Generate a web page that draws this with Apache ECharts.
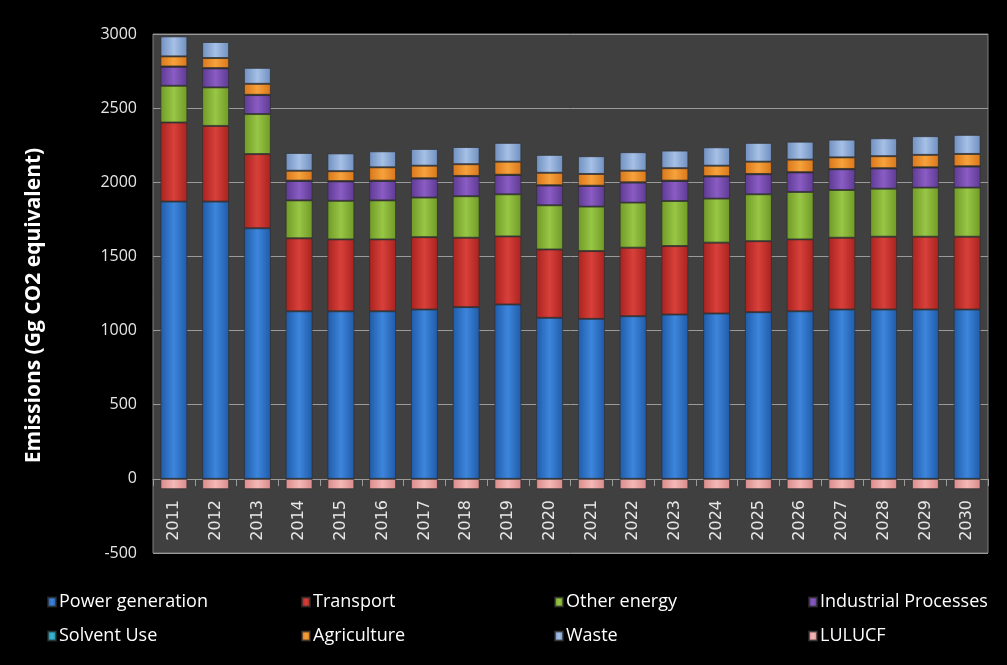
<!DOCTYPE html>
<html>
<head>
<meta charset="utf-8">
<title>Emissions</title>
<script src="https://cdn.jsdelivr.net/npm/echarts@6/dist/echarts.min.js"></script>
<style>
  html, body { margin: 0; padding: 0; background: #000; }
  #main { width: 1007px; height: 665px; }
</style>
</head>
<body>
<div id="main"></div>
<script>
// data (Gg CO2 equivalent)
const years = ['2011', '2012', '2013', '2014', '2015', '2016', '2017', '2018', '2019', '2020',
  '2021', '2022', '2023', '2024', '2025', '2026', '2027', '2028', '2029', '2030']
const powerGeneration = [1870, 1870, 1690, 1130, 1130, 1130, 1142, 1158, 1176, 1086,
  1079, 1097, 1108, 1115, 1124, 1130, 1142, 1142, 1142, 1142]
const transport = [533, 510, 500, 492, 485, 485, 488, 468, 459, 461,
  457, 462, 462, 478, 479, 485, 484, 491, 491, 491]
const otherEnergy = [248, 260, 270, 256, 260, 263, 267, 280, 284, 298,
  300, 304, 304, 297, 316, 320, 322, 324, 331, 331]
const industrialProcesses = [128, 128, 128, 131, 131, 131, 128, 135, 130, 133,
  139, 135, 135, 149, 135, 131, 140, 136, 135, 142]
const solventUse = [2, 2, 2, 2, 2, 2, 2, 2, 2, 2,
  2, 2, 2, 2, 2, 2, 2, 2, 2, 2]
const agriculture = [68, 68, 74, 67, 67, 90, 85, 79, 88, 84,
  79, 78, 84, 71, 83, 85, 78, 81, 84, 83]
const waste = [135, 108, 108, 120, 120, 108, 113, 116, 127, 121,
  120, 125, 119, 124, 127, 121, 120, 121, 126, 129]
const lulucf = [-70, -70, -70, -70, -70, -70, -70, -70, -70, -70,
  -70, -70, -70, -70, -70, -70, -70, -70, -70, -70]
const yTicks = { min: -500, max: 3000, step: 500 }

const chart = echarts.init(document.getElementById('main'))

// bevel-ish look: darker edges, lighter middle
const bevel = (dark, light) => new echarts.graphic.LinearGradient(0, 0, 1, 0, [
  { offset: 0, color: dark },
  { offset: 0.5, color: light },
  { offset: 1, color: dark },
])

const makeSeries = (name, data, dark, light) => ({
  name: name,
  type: 'bar',
  stack: 'total',
  barWidth: 27,
  data: data,
  itemStyle: {
    color: bevel(dark, light),
    borderColor: 'rgba(45, 45, 45, 0.7)',
    borderWidth: 1,
  },
})

const legendBase = {
  orient: 'vertical',
  top: 588,
  icon: 'rect',
  itemWidth: 8,
  itemHeight: 9,
  itemGap: 16,
  textStyle: {
    color: '#ffffff',
    fontFamily: 'Open Sans',
    fontSize: 18,
    padding: [0, 0, 0, -2],
  },
}

const option = {
  backgroundColor: '#000000',
  animation: false,
  grid: {
    show: true,
    left: 153,
    right: 19,
    top: 34,
    bottom: 112,
    backgroundColor: '#404040',
    borderColor: '#7f7f7f',
    borderWidth: 1,
  },
  legend: [
    Object.assign({}, legendBase, { left: 42, data: ['Power generation', 'Solvent Use'] }),
    Object.assign({}, legendBase, { left: 296, data: ['Transport', 'Agriculture'] }),
    Object.assign({}, legendBase, { left: 549, data: ['Other energy', 'Waste'] }),
    Object.assign({}, legendBase, { left: 803, data: ['Industrial Processes', 'LULUCF'] }),
  ],
  xAxis: {
    type: 'category',
    data: years,
    position: 'bottom',
    // axis sits on the zero line, labels just under the LULUCF bars
    offset: -74,
    axisLine: {
      onZero: false,
      lineStyle: { color: '#9a9a9a', width: 1 },
    },
    axisTick: {
      show: true,
      length: 7,
      lineStyle: { color: '#9a9a9a' },
    },
    axisLabel: {
      rotate: 90,
      margin: 21,
      color: '#e6e6e6',
      fontFamily: 'DejaVu Sans',
      fontSize: 16,
    },
  },
  yAxis: {
    type: 'value',
    min: yTicks.min,
    max: yTicks.max,
    interval: yTicks.step,
    name: 'Emissions (Gg CO2 equivalent)',
    nameLocation: 'middle',
    nameGap: 108,
    nameTextStyle: {
      color: '#ffffff',
      fontFamily: 'Open Sans',
      fontWeight: 'bold',
      fontSize: 21,
      padding: [0, 24, 0, 0],
    },
    axisLine: { show: false },
    axisTick: { show: false },
    axisLabel: {
      margin: 16,
      color: '#e6e6e6',
      fontFamily: 'Open Sans',
      fontSize: 16,
      formatter: (v) => String(v),
    },
    splitLine: {
      show: true,
      lineStyle: { color: '#9a9a9a', width: 1 },
    },
  },
  series: [
    makeSeries('Power generation', powerGeneration, '#1f5aa8', '#3d86dc'),
    makeSeries('Transport', transport, '#a8221f', '#d8403a'),
    makeSeries('Other energy', otherEnergy, '#6f9a26', '#98c645'),
    makeSeries('Industrial Processes', industrialProcesses, '#5d3a92', '#8a5cc4'),
    makeSeries('Solvent Use', solventUse, '#1e8ea8', '#3ab8d2'),
    makeSeries('Agriculture', agriculture, '#d9761a', '#f6a23c'),
    makeSeries('Waste', waste, '#6f8fbf', '#a6c0e6'),
    makeSeries('LULUCF', lulucf, '#d98a8a', '#f4b8b6'),
  ],
}

chart.setOption(option)
</script>
</body>
</html>
